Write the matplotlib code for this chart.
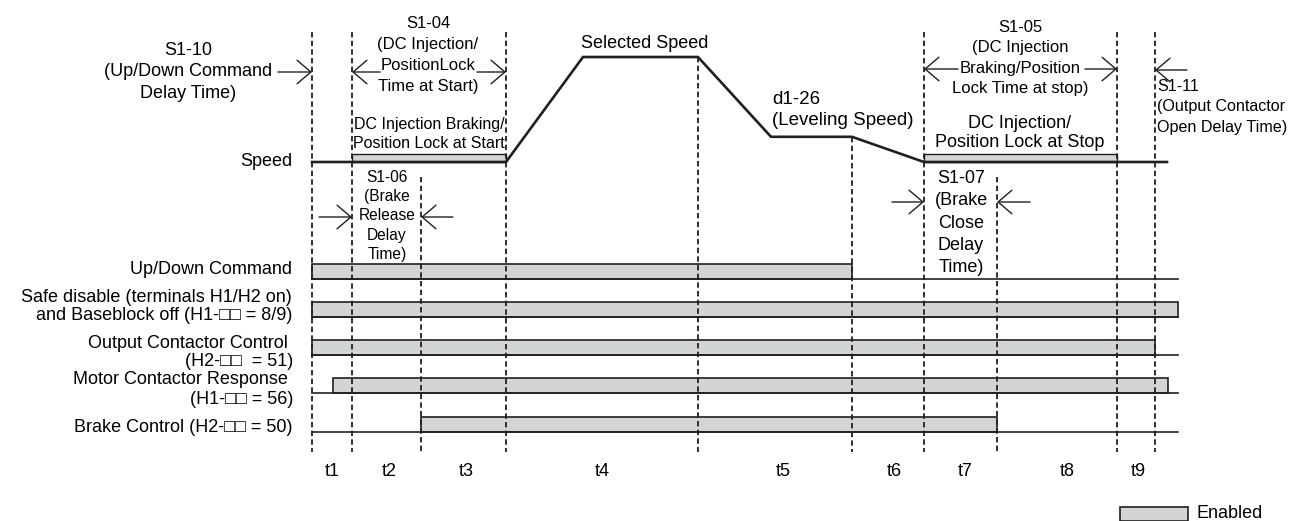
import matplotlib.pyplot as plt
from matplotlib.patches import Rectangle

plt.rcParams['font.family'] = ['Liberation Sans', 'DejaVu Sans']

# time marks (dashed lines) and where each one starts at the top
t_marks = [312, 352, 421, 506, 698, 852, 924, 997, 1117, 1155]
mark_top = [32, 32, 177, 32, 57, 137, 32, 177, 32, 32]
mark_bottom = 452

# speed profile: time points and relative speed (1 = selected speed)
speed_t = [312, 506, 583, 698, 771, 852, 924, 1167]
speed_lvl = [0, 0, 1, 1, 0.24, 0.24, 0, 0]
speed_base = 162
speed_span = 105

# DC injection / position lock windows on the speed line
dc_start = [352, 924]
dc_end = [506, 1117]

# signal rows: enabled interval of each signal
sig_names = ['Up/Down Command', 'Safe disable', 'Output Contactor',
             'Motor Contactor', 'Brake Control']
sig_on = [312, 312, 312, 333, 421]
sig_off = [852, 1178, 1155, 1168, 997]
sig_low = [279, 317, 355, 393, 432]
sig_end = 1178

# interval labels
phase_labels = ['t1', 't2', 't3', 't4', 't5', 't6', 't7', 't8', 't9']
phase_x = [332, 389, 466, 602, 783, 894, 965, 1067, 1138]

fig = plt.figure(figsize=(12.98, 5.21), dpi=100)
ax = fig.add_axes([0, 0, 1, 1])
ax.set_xlim(0, 1298)
ax.set_ylim(521, 0)
ax.axis('off')

grey = '#d3d4d6'
ink = '#231f20'

# dashed time marks
for x, top in zip(t_marks, mark_top):
    ax.plot([x, x], [top, mark_bottom], color=ink, lw=1.3, ls=(0, (3, 1.8)))

# DC injection bars on speed line
for a, b in zip(dc_start, dc_end):
    ax.add_patch(Rectangle((a, speed_base - 8), b - a, 8, facecolor=grey,
                           edgecolor=ink, lw=1.0))

# speed line
ax.plot(speed_t, [speed_base - v * speed_span for v in speed_lvl],
        color=ink, lw=1.9, solid_joinstyle='miter')

# signal rows
h = 15
for on, off, low in zip(sig_on, sig_off, sig_low):
    ax.plot([t_marks[0], sig_end], [low, low], color=ink, lw=1.2)
    ax.add_patch(Rectangle((on, low - h), off - on, h, facecolor=grey,
                           edgecolor=ink, lw=1.2))

fs = 13
# row labels
ax.text(292, 162, 'Speed', ha='right', va='center', fontsize=fs)
ax.text(292, 270, 'Up/Down Command', ha='right', va='center', fontsize=fs)
ax.text(292, 297, 'Safe disable (terminals H1/H2 on)', ha='right', va='center', fontsize=fs)
ax.text(292, 316, 'and Baseblock off (H1-\u25a1\u25a1 = 8/9)', ha='right', va='center', fontsize=fs)
ax.text(288, 343, 'Output Contactor Control', ha='right', va='center', fontsize=fs)
ax.text(293, 362, '(H2-\u25a1\u25a1  = 51)', ha='right', va='center', fontsize=fs)
ax.text(288, 380, 'Motor Contactor Response', ha='right', va='center', fontsize=fs)
ax.text(293, 400, '(H1-\u25a1\u25a1 = 56)', ha='right', va='center', fontsize=fs)
ax.text(293, 427, 'Brake Control (H2-\u25a1\u25a1 = 50)', ha='right', va='center', fontsize=fs)

# phase labels
for lab, x in zip(phase_labels, phase_x):
    ax.text(x, 472, lab, ha='center', va='center', fontsize=fs)

# annotations above the speed line
ax.text(188, 72, 'S1-10\n(Up/Down Command\nDelay Time)', ha='center', va='center',
        fontsize=fs, linespacing=1.33)
ax.text(428, 55, 'S1-04\n(DC Injection/\nPositionLock\nTime at Start)', ha='center',
        va='center', fontsize=12, linespacing=1.51)
ax.text(429, 134, 'DC Injection Braking/\nPosition Lock at Start', ha='center',
        va='center', fontsize=11.5, linespacing=1.25)
ax.text(645, 43, 'Selected Speed', ha='center', va='center', fontsize=fs)
ax.text(772, 110, 'd1-26\n(Leveling Speed)', ha='left', va='center', fontsize=13.5,
        linespacing=1.28)
ax.text(1020, 58, 'S1-05\n(DC Injection\nBraking/Position\nLock Time at stop)', ha='center',
        va='center', fontsize=12, linespacing=1.45)
ax.text(1020, 133, 'DC Injection/\nPosition Lock at Stop', ha='center', va='center',
        fontsize=fs, linespacing=1.23)
ax.text(1157, 107, 'S1-11\n(Output Contactor\nOpen Delay Time)', ha='left', va='center',
        fontsize=11.6, linespacing=1.46)
ax.text(387, 216, 'S1-06\n(Brake\nRelease\nDelay\nTime)', ha='center', va='center',
        fontsize=11.2, linespacing=1.34)
ax.text(961, 223, 'S1-07\n(Brake\nClose\nDelay\nTime)', ha='center', va='center',
        fontsize=fs, linespacing=1.40)

# dimension arrows
arrows = [((278, 72), (312, 72)),
          ((380, 72), (352, 72)), ((477, 72), (506, 72)),
          ((319, 217), (352, 217)), ((453, 217), (421, 217)),
          ((892, 202), (924, 202)), ((1030, 202), (997, 202)),
          ((958, 69), (924, 69)), ((1085, 69), (1117, 69)),
          ((1187, 70), (1155, 70))]
for start, end in arrows:
    ax.annotate('', xy=end, xytext=start,
                arrowprops=dict(arrowstyle='->,head_length=1.0,head_width=0.85',
                                color=ink, lw=1.0, mutation_scale=10,
                                shrinkA=0, shrinkB=0))

# legend
ax.add_patch(Rectangle((1120, 507), 68, 14, facecolor=grey, edgecolor=ink, lw=1.2))
ax.text(1196, 514, 'Enabled', ha='left', va='center', fontsize=fs)

fig.savefig('out.png', dpi=100)
